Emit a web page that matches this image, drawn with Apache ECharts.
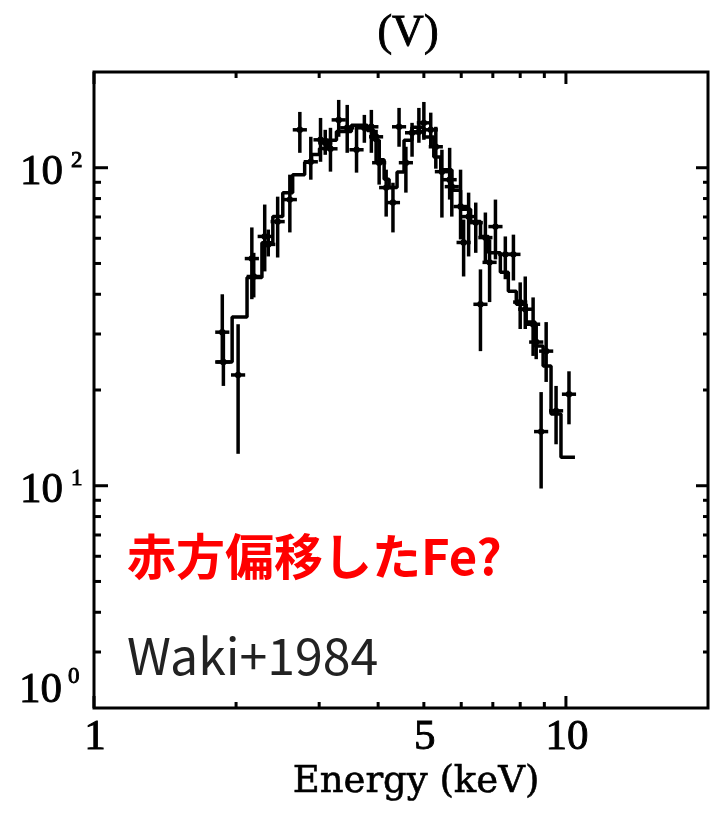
<!DOCTYPE html>
<html>
<head>
<meta charset="utf-8">
<script src="https://cdn.jsdelivr.net/npm/echarts@6/dist/echarts.min.js"></script>
<style>
  html, body { margin: 0; padding: 0; background: #fff; }
  #chart { width: 710px; height: 815px; }
</style>
</head>
<body>
<div id="chart"></div>
<script>
// Axis ranges of the panel (log–log)
const energyRange = [1, 20];
const countRange = [2, 200];

// Tick values and labels
const xMajorTicks = [1, 10];
const xMinorTicks = [2, 3, 4, 5, 6, 7, 8, 9];
const yMajorTicks = [10, 100];
const yMinorTicks = [3, 4, 5, 6, 7, 8, 9, 20, 30, 40, 50, 60, 70, 80, 90];
const xLabelValues = [1, 5, 10];
const yLabelValues = [10, 100];

// Folded model spectrum: bin edges (keV) and the model level in each bin
const modelEdges = [1.806, 1.962, 2.110, 2.269, 2.393, 2.512, 2.636, 2.795, 2.891, 3.005,
  3.124, 3.264, 3.510, 3.793, 3.924, 4.020, 4.119, 4.220, 4.387, 4.539,
  4.718, 5.000, 5.248, 5.429, 5.726, 5.981, 6.281, 6.592, 6.853, 7.262,
  7.550, 7.849, 8.238, 8.605, 8.946, 9.299, 9.761, 10.45];
const modelLevels = [24.5, 33.9, 45.2, 58.1, 70.2, 83.5, 95.1, 104, 110, 115,
  122, 130, 136, 131, 122, 106, 92, 86.6, 97, 122,
  134, 125, 108, 98.6, 85, 74, 67.7, 60.8, 54, 46.9,
  40.9, 37.2, 32.7, 27.5, 23.8, 16.8, 12.3];

// Observed counts with their lower / upper error bounds
const pointEnergy = [1.87, 1.88, 2.02, 2.16, 2.18, 2.30, 2.34, 2.45, 2.60, 2.73,
  2.88, 3.02, 3.09, 3.17, 3.30, 3.44, 3.60, 3.74, 3.87, 3.96,
  4.02, 4.16, 4.30, 4.43, 4.58, 4.72, 4.88, 5.00, 5.17, 5.30,
  5.46, 5.67, 5.73, 5.98, 6.07, 6.22, 6.44, 6.59, 6.75, 6.89,
  7.09, 7.44, 7.74, 8.00, 8.20, 8.52, 8.65, 8.86, 9.08, 9.53, 10.15];
const pointCounts = [30.4, 24.5, 22.3, 51.8, 45.5, 60.8, 57.4, 67.7, 79.4, 131.6,
  104.4, 122.4, 119.8, 114.7, 141.4, 133.5, 113.9, 133.5, 134.5, 125.1,
  103.7, 86.6, 77.7, 134.5, 103.7, 128.8, 129.7, 138.4, 131.6, 116.4,
  97.2, 91.7, 87.2, 75.5, 58.2, 70.2, 67.2, 37.2, 60.3, 50.4,
  65.3, 53.4, 53.4, 37.8, 35.9, 32.2, 28.3, 14.8, 26.5, 17.2, 19.4];
const pointLow = [24.1, 20.6, 12.6, 38.6, 39.1, 47.2, 52.6, 52.2, 62.6, 111.4,
  91.7, 104.4, 109.8, 97.2, 125.1, 111.4, 96.5, 119.8, 111.4, 104.4,
  88.5, 70.2, 62.6, 116.4, 83.5, 108.3, 119.8, 122.4, 116.4, 99.3,
  69.7, 79.4, 70.2, 59.5, 45.5, 52.6, 54.0, 26.5, 50.4, 37.8,
  51.5, 44.6, 44.2, 31.1, 31.1, 25.6, 25.0, 9.8, 21.2, 13.5, 15.6];
const pointHigh = [40.0, 30.4, 32.2, 64.9, 54.0, 76.6, 63.9, 81.1, 95.1, 149.8,
  125.1, 143.4, 131.6, 133.5, 163.4, 157.6, 134.5, 146.6, 152.0, 131.6,
  122.4, 98.6, 89.7, 154.2, 116.4, 138.4, 154.2, 161.0, 149.0, 134.5,
  113.9, 115.5, 98.6, 98.6, 68.7, 83.5, 77.7, 47.9, 72.3, 59.5,
  79.4, 60.8, 61.6, 43.6, 45.5, 39.1, 32.0, 19.7, 32.7, 20.6, 22.9];

// Half width of each energy bin marker, in decades
const crossHalfWidthDex = 0.015;

const ink = '#000';
const serif = '"Liberation Serif", "Times New Roman", serif';
// Printed serif text is a little heavier than the plain face
const inkText = (extra) => Object.assign({ fill: ink, stroke: ink, lineWidth: 0.9 }, extra);

const modelLine = modelLevels.map((c, i) => [modelEdges[i], c]);
modelLine.push([modelEdges[modelEdges.length - 1], modelLevels[modelLevels.length - 1]]);

const pointData = pointEnergy.map((e, i) => [e, pointCounts[i], pointLow[i], pointHigh[i]]);

function renderErrorBar(params, api) {
  const e = api.value(0), c = api.value(1), lo = api.value(2), hi = api.value(3);
  const k = Math.pow(10, crossHalfWidthDex);
  const top = api.coord([e, hi]);
  const bot = api.coord([e, lo]);
  const left = api.coord([e / k, c]);
  const right = api.coord([e * k, c]);
  const mid = api.coord([e, c]);
  const st = { stroke: ink, lineWidth: 3.5 };
  return {
    type: 'group',
    children: [
      { type: 'line', shape: { x1: top[0], y1: top[1], x2: bot[0], y2: bot[1] }, style: st },
      { type: 'line', shape: { x1: left[0], y1: left[1], x2: right[0], y2: right[1] }, style: st },
      { type: 'circle', shape: { cx: mid[0], cy: mid[1], r: 3.2 }, style: { fill: ink } }
    ]
  };
}

// Inward ticks on all four sides of the frame
function renderTicks(params, api) {
  const children = [];
  const add = (x1, y1, x2, y2) => children.push({
    type: 'line', shape: { x1, y1, x2, y2 }, style: { stroke: ink, lineWidth: 3 }
  });
  const xTicks = (vals, len) => vals.forEach(v => {
    const b = api.coord([v, countRange[0]]);
    const t = api.coord([v, countRange[1]]);
    add(b[0], b[1], b[0], b[1] - len);
    add(t[0], t[1], t[0], t[1] + len);
  });
  const yTicks = (vals, lenL, lenR) => vals.forEach(v => {
    const l = api.coord([energyRange[0], v]);
    const r = api.coord([energyRange[1], v]);
    add(l[0], l[1], l[0] + lenL, l[1]);
    add(r[0], r[1], r[0] - lenR, r[1]);
  });
  xTicks(xMajorTicks, 12);
  xTicks(xMinorTicks, 6);
  yTicks(yMajorTicks, 14, 12);
  yTicks(yMinorTicks, 7, 5);
  return { type: 'group', children };
}

// Tick labels: plain numbers on energy, powers of ten on counts
function renderLabels(params, api) {
  const children = [];
  xLabelValues.forEach(v => {
    const p = api.coord([v, countRange[0]]);
    children.push({
      type: 'text',
      style: inkText({ text: String(v), x: p[0] + 1, y: p[1] + 30, font: '43px ' + serif,
        align: 'center', verticalAlign: 'middle', textAlign: 'center', textVerticalAlign: 'middle' })
    });
  });
  yLabelValues.forEach(v => {
    const p = api.coord([energyRange[0], v]);
    children.push({
      type: 'text',
      style: inkText({ text: '10', x: p[0] - 31, y: p[1] + 5, font: '43px ' + serif,
        align: 'right', verticalAlign: 'middle', textAlign: 'right', textVerticalAlign: 'middle' })
    });
    children.push({
      type: 'text',
      style: inkText({ text: String(Math.round(Math.log10(v))), x: p[0] - 23, y: p[1] - 7, font: '23px ' + serif,
        align: 'left', verticalAlign: 'middle', textAlign: 'left', textVerticalAlign: 'middle' })
    });
  });
  return { type: 'group', children };
}

const chart = echarts.init(document.getElementById('chart'), null, { renderer: 'canvas' });

chart.setOption({
  animation: false,
  backgroundColor: '#fff',
  grid: {
    left: 94, top: 72, right: 2, bottom: 107,
    show: true, borderColor: ink, borderWidth: 3, backgroundColor: 'transparent'
  },
  xAxis: {
    type: 'log', logBase: 10, min: energyRange[0], max: energyRange[1],
    axisLine: { show: false }, axisTick: { show: false }, axisLabel: { show: false },
    splitLine: { show: false }, minorTick: { show: false }
  },
  yAxis: {
    type: 'log', logBase: 10, min: countRange[0], max: countRange[1],
    axisLine: { show: false }, axisTick: { show: false }, axisLabel: { show: false },
    splitLine: { show: false }, minorTick: { show: false }
  },
  graphic: [
    {
      type: 'text', x: 408, y: 33,
      style: inkText({ text: '(V)', font: '44px ' + serif, align: 'center', verticalAlign: 'middle' })
    },
    {
      type: 'text', x: 416, y: 782,
      style: inkText({ text: 'Energy (keV)', font: '37px "DejaVu Serif", serif',
        align: 'center', verticalAlign: 'middle', lineWidth: 0.6 })
    },
    {
      type: 'text', x: 62, y: 691,
      style: inkText({ text: '10', font: '43px ' + serif, align: 'right', verticalAlign: 'middle' })
    },
    {
      type: 'text', x: 68, y: 677,
      style: inkText({ text: '0', font: '23px ' + serif, align: 'left', verticalAlign: 'middle' })
    },
    {
      type: 'text', x: 127, y: 556,
      style: { text: '赤方偏移したFe?', font: 'bold 49px "Noto Sans CJK JP", sans-serif', fill: '#ff0000',
        align: 'left', verticalAlign: 'middle' }
    },
    {
      type: 'text', x: 127, y: 656,
      style: { text: 'Waki+1984', font: '50px "Noto Sans CJK JP", "Noto Sans", sans-serif', fill: '#222',
        align: 'left', verticalAlign: 'middle' }
    }
  ],
  series: [
    {
      name: 'model',
      type: 'line',
      step: 'end',
      data: modelLine,
      showSymbol: false,
      lineStyle: { color: ink, width: 3.5 },
      silent: true,
      z: 3
    },
    {
      name: 'observed',
      type: 'custom',
      data: pointData,
      encode: { x: 0, y: 1 },
      renderItem: renderErrorBar,
      clip: false,
      silent: true,
      z: 4
    },
    {
      name: 'ticks',
      type: 'custom',
      data: [[energyRange[0], countRange[0]]],
      renderItem: renderTicks,
      clip: false,
      silent: true,
      z: 5
    },
    {
      name: 'labels',
      type: 'custom',
      data: [[energyRange[0], countRange[0]]],
      renderItem: renderLabels,
      clip: false,
      silent: true,
      z: 5
    }
  ]
});
</script>
</body>
</html>
